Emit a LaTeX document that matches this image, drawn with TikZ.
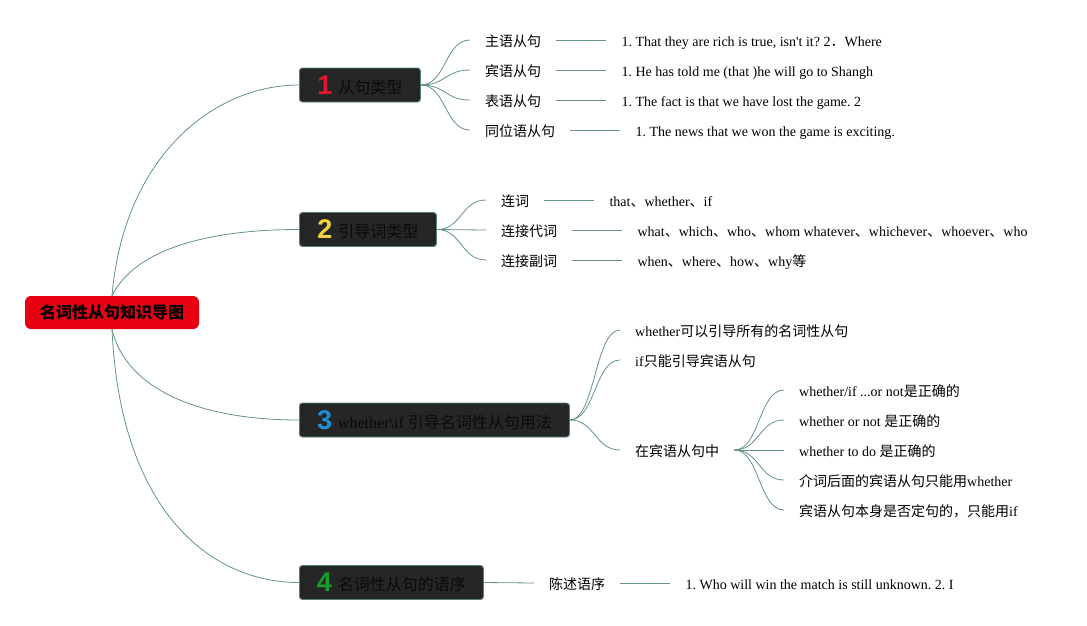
\documentclass[tikz,border=0pt]{standalone}
\usepackage{fontspec}
\setmainfont{Liberation Serif}
\newfontfamily\cjk{Noto Sans CJK SC}
\newfontfamily\digitfont{Liberation Sans}
\newcommand\zh[1]{{\cjk #1}}
\definecolor{rootred}{RGB}{230,0,18}
\definecolor{boxfill}{RGB}{38,38,38}
\definecolor{boxline}{RGB}{84,130,114}
\definecolor{boxtext}{RGB}{10,10,10}
\definecolor{linkc}{RGB}{98,148,130}
\definecolor{dred}{RGB}{226,22,44}
\definecolor{dyellow}{RGB}{242,210,64}
\definecolor{dblue}{RGB}{30,144,214}
\definecolor{dgreen}{RGB}{24,156,44}
\newcommand\bignum[2]{\raisebox{-1pt}{\textcolor{#1}{\digitfont\bfseries\fontsize{27}{27}\selectfont #2}}\hspace{6pt}}
\frenchspacing
\begin{document}
\begin{tikzpicture}[x=1pt,y=-1pt,
  rootbox/.style={rectangle, rounded corners=6pt, fill=rootred, minimum width=174pt, minimum height=33pt, inner sep=0pt, text=black, font=\cjk\bfseries\fontsize{16}{16}\selectfont},
  topic/.style={rectangle, rounded corners=3pt, fill=boxfill, draw=boxline, line width=0.9pt, minimum height=34pt, inner sep=0pt, anchor=west, text=boxtext, font=\fontsize{16}{16}\selectfont},
  leaf/.style={inner xsep=15pt, inner ysep=0pt, anchor=west, text=black, text height=13.5pt, text depth=0pt, font=\fontsize{14}{14}\selectfont},
  link/.style={draw=linkc, line width=0.8pt}]
\useasboundingbox (0,0) rectangle (1087,625);
% root
\node[rootbox] (root) at (112,312.5) {名词性从句知识导图};
% topics
\node[topic, minimum width=121pt] (t1) at (299,85) {\bignum{dred}{1}\zh{从句类型}};
\node[topic, minimum width=137pt] (t2) at (299,229.5) {\bignum{dyellow}{2}\zh{引导词类型}};
\node[topic, minimum width=270pt] (t3) at (299,420) {\bignum{dblue}{3}whether\textbackslash if \zh{引导名词性从句用法}};
\node[topic, minimum width=184pt] (t4) at (299,582.5) {\bignum{dgreen}{4}\zh{名词性从句的语序}};
% root links
\draw[link] (root.north) .. controls +(12,-140) and +(-85,0) .. (t1.west);
\draw[link] (root.north) .. controls +(22,-45) and +(-95,0) .. (t2.west);
\draw[link] (root.south) .. controls +(14,60) and +(-100,0) .. (t3.west);
\draw[link] (root.south) .. controls +(8,180) and +(-90,0) .. (t4.west);
% topic 1
\node[leaf] (c11) at (470,40) {\zh{主语从句}};
\node[leaf] (c12) at (470,70) {\zh{宾语从句}};
\node[leaf] (c13) at (470,100) {\zh{表语从句}};
\node[leaf] (c14) at (470,130) {\zh{同位语从句}};
\node[leaf] (d11) at ([xshift=50pt]c11.east) {1. That they are rich is true, isn\textquotesingle t it? 2\zh{．}Where};
\node[leaf] (d12) at ([xshift=50pt]c12.east) {1. He has told me (that )he will go to Shangh};
\node[leaf] (d13) at ([xshift=50pt]c13.east) {1. The fact is that we have lost the game. 2};
\node[leaf] (d14) at ([xshift=50pt]c14.east) {1. The news that we won the game is exciting.};
\foreach \c in {c11,c12,c13,c14}{\draw[link] (t1.east) .. controls +(25,0) and +(-25,0) .. (\c.west);}
\draw[link] (c11.east) -- (d11.west);
\draw[link] (c12.east) -- (d12.west);
\draw[link] (c13.east) -- (d13.west);
\draw[link] (c14.east) -- (d14.west);
% topic 2
\node[leaf] (c21) at (486,200) {\zh{连词}};
\node[leaf] (c22) at (486,230) {\zh{连接代词}};
\node[leaf] (c23) at (486,260) {\zh{连接副词}};
\node[leaf] (d21) at ([xshift=50pt]c21.east) {that\zh{、}whether\zh{、}if};
\node[leaf] (d22) at ([xshift=50pt]c22.east) {what\zh{、}which\zh{、}who\zh{、}whom whatever\zh{、}whichever\zh{、}whoever\zh{、}who};
\node[leaf] (d23) at ([xshift=50pt]c23.east) {when\zh{、}where\zh{、}how\zh{、}why\zh{等}};
\foreach \c in {c21,c22,c23}{\draw[link] (t2.east) .. controls +(25,0) and +(-25,0) .. (\c.west);}
\draw[link] (c21.east) -- (d21.west);
\draw[link] (c22.east) -- (d22.west);
\draw[link] (c23.east) -- (d23.west);
% topic 3
\node[leaf] (c31) at (620,330) {whether\zh{可以引导所有的名词性从句}};
\node[leaf] (c32) at (620,360) {if\zh{只能引导宾语从句}};
\node[leaf] (c33) at (620,450) {\zh{在宾语从句中}};
\foreach \c in {c31,c32,c33}{\draw[link] (t3.east) .. controls +(25,0) and +(-25,0) .. (\c.west);}
\node[leaf] (e1) at (784,390) {whether/if ...or not\zh{是正确的}};
\node[leaf] (e2) at (784,420) {whether or not \zh{是正确的}};
\node[leaf] (e3) at (784,450) {whether to do \zh{是正确的}};
\node[leaf] (e4) at (784,480) {\zh{介词后面的宾语从句只能用}whether};
\node[leaf] (e5) at (784,510) {\zh{宾语从句本身是否定句的，只能用}if};
\foreach \c in {e1,e2,e3,e4,e5}{\draw[link] (c33.east) .. controls +(25,0) and +(-25,0) .. (\c.west);}
% topic 4
\node[leaf] (c41) at (534,583) {\zh{陈述语序}};
\node[leaf] (d41) at ([xshift=50pt]c41.east) {1. Who will win the match is still unknown. 2. I};
\draw[link] (t4.east) -- (c41.west);
\draw[link] (c41.east) -- (d41.west);
\end{tikzpicture}
\end{document}
